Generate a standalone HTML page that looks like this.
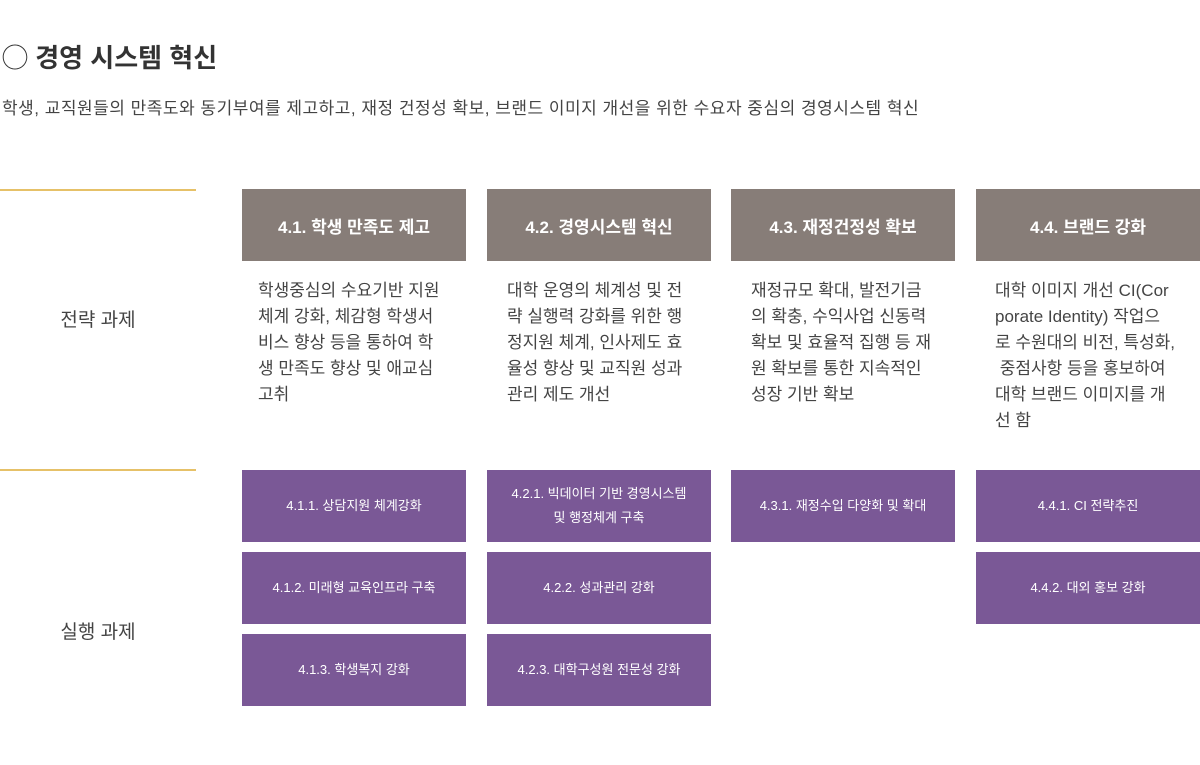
<!DOCTYPE html>
<html><head><meta charset="utf-8"><style>
body{margin:0;width:1200px;height:765px;background:#fff;font-family:"Liberation Sans","Noto Sans CJK KR",sans-serif;color:#333;position:relative;overflow:hidden}
.a{position:absolute}
.t{left:2px;top:40px;font-size:26px;font-weight:bold;color:#333;line-height:36px}
.s{left:2px;top:97px;font-size:17px;color:#444;line-height:24px;white-space:nowrap;letter-spacing:0.5px}
.g{left:0;width:196px;height:2px;background:#e6c168}
.l{left:0;width:196px;text-align:center;font-size:19px;color:#444}
.h{width:224px;height:72px;background:#877d78;color:#fff;font-size:17px;font-weight:bold;display:flex;align-items:center;justify-content:center}
.p{width:224px;height:72px;background:#7a5896;color:#fff;font-size:13px;display:flex;align-items:center;justify-content:center;text-align:center;line-height:24px}
.d{font-size:17px;line-height:26px;color:#444;top:278px;white-space:nowrap}
</style></head><body>
<div class="a t">◯ 경영 시스템 혁신</div>
<div class="a s">학생, 교직원들의 만족도와 동기부여를 제고하고, 재정 건정성 확보, 브랜드 이미지 개선을 위한 수요자 중심의 경영시스템 혁신</div>
<div class="a g" style="top:189px"></div>
<div class="a g" style="top:469px"></div>
<div class="a l" style="top:305px">전략 과제</div>
<div class="a l" style="top:617px">실행 과제</div>

<div class="a h" style="left:242px;top:189px">4.1. 학생 만족도 제고</div>
<div class="a h" style="left:487px;top:189px">4.2. 경영시스템 혁신</div>
<div class="a h" style="left:731px;top:189px">4.3. 재정건정성 확보</div>
<div class="a h" style="left:976px;top:189px">4.4. 브랜드 강화</div>

<div class="a d" style="left:258px">학생중심의 수요기반 지원<br>체계 강화, 체감형 학생서<br>비스 향상 등을 통하여 학<br>생 만족도 향상 및 애교심<br>고취</div>
<div class="a d" style="left:507px">대학 운영의 체계성 및 전<br>략 실행력 강화를 위한 행<br>정지원 체계, 인사제도 효<br>율성 향상 및 교직원 성과<br>관리 제도 개선</div>
<div class="a d" style="left:751px">재정규모 확대, 발전기금<br>의 확충, 수익사업 신동력<br>확보 및 효율적 집행 등 재<br>원 확보를 통한 지속적인<br>성장 기반 확보</div>
<div class="a d" style="left:995px">대학 이미지 개선 CI(Cor<br>porate Identity) 작업으<br>로 수원대의 비전, 특성화,<br>&nbsp;중점사항 등을 홍보하여<br>대학 브랜드 이미지를 개<br>선 함</div>

<div class="a p" style="left:242px;top:470px">4.1.1. 상담지원 체계강화</div>
<div class="a p" style="left:242px;top:552px">4.1.2. 미래형 교육인프라 구축</div>
<div class="a p" style="left:242px;top:634px">4.1.3. 학생복지 강화</div>
<div class="a p" style="left:487px;top:470px">4.2.1. 빅데이터 기반 경영시스템<br>및 행정체계 구축</div>
<div class="a p" style="left:487px;top:552px">4.2.2. 성과관리 강화</div>
<div class="a p" style="left:487px;top:634px">4.2.3. 대학구성원 전문성 강화</div>
<div class="a p" style="left:731px;top:470px">4.3.1. 재정수입 다양화 및 확대</div>
<div class="a p" style="left:976px;top:470px">4.4.1. CI 전략추진</div>
<div class="a p" style="left:976px;top:552px">4.4.2. 대외 홍보 강화</div>
</body></html>
